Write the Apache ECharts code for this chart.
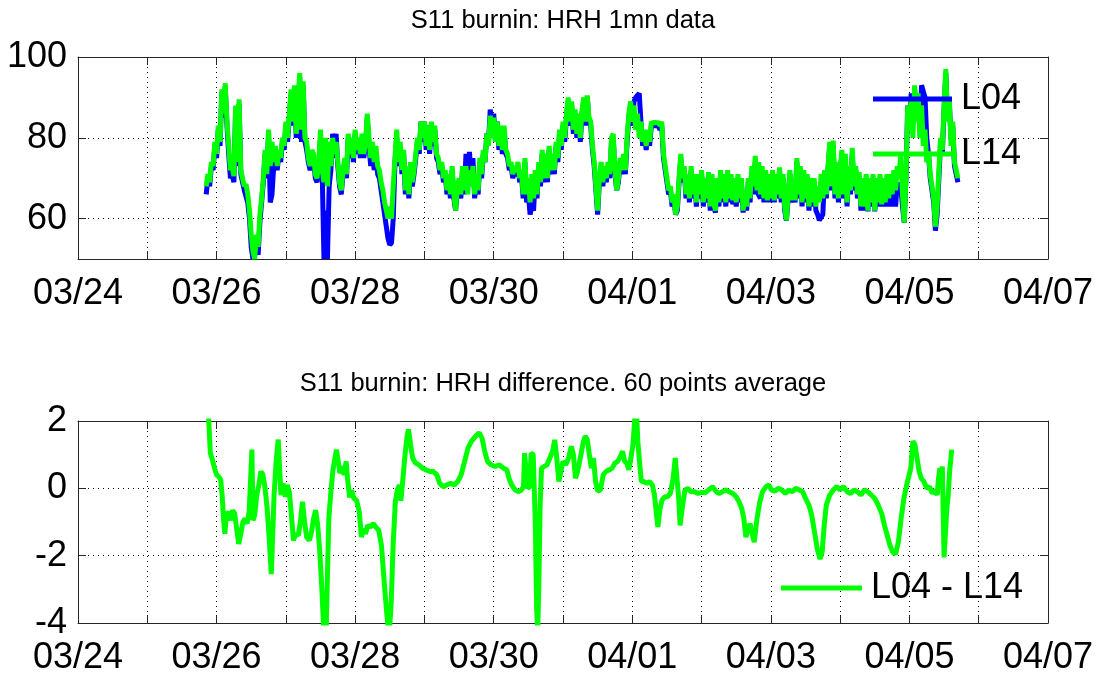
<!DOCTYPE html>
<html><head><meta charset="utf-8">
<script src="https://cdn.jsdelivr.net/npm/echarts@6/dist/echarts.min.js"></script>
<style>html,body{margin:0;padding:0;background:#fff;}#chart{width:1104px;height:676px;}</style>
</head><body><div id="chart"></div>
<script>
const titles = ['S11 burnin: HRH 1mn data', 'S11 burnin: HRH difference. 60 points average'];
const xTickLabels = ['03/24','03/26','03/28','03/30','04/01','04/03','04/05','04/07'];
const yTicksHRH = [60, 80, 100];
const yTicksDiff = [-4, -2, 0, 2];
const seriesNames = ['L04', 'L14', 'L04 - L14'];

// time in days since 03/24 00:00
const hrhTime = [
1.850,1.875,1.900,1.925,1.950,1.975,2.000,2.025,2.050,2.075,2.100,2.125,2.150,2.175,2.200,2.225,2.250,2.275,2.300,2.325,
2.350,2.375,2.400,2.425,2.450,2.475,2.500,2.525,2.550,2.575,2.600,2.625,2.650,2.675,2.700,2.725,2.750,2.775,2.800,2.825,
2.850,2.875,2.900,2.925,2.950,2.975,3.000,3.025,3.050,3.075,3.100,3.125,3.150,3.175,3.200,3.225,3.250,3.275,3.300,3.325,
3.350,3.375,3.400,3.425,3.450,3.475,3.500,3.525,3.550,3.575,3.600,3.625,3.650,3.675,3.700,3.725,3.750,3.775,3.800,3.825,
3.850,3.875,3.900,3.925,3.950,3.975,4.000,4.025,4.050,4.075,4.100,4.125,4.150,4.175,4.200,4.225,4.250,4.275,4.300,4.325,
4.350,4.375,4.400,4.425,4.450,4.475,4.500,4.525,4.550,4.575,4.600,4.625,4.650,4.675,4.700,4.725,4.750,4.775,4.800,4.825,
4.850,4.875,4.900,4.925,4.950,4.975,5.000,5.025,5.050,5.075,5.100,5.125,5.150,5.175,5.200,5.225,5.250,5.275,5.300,5.325,
5.350,5.375,5.400,5.425,5.450,5.475,5.500,5.525,5.550,5.575,5.600,5.625,5.650,5.675,5.700,5.725,5.750,5.775,5.800,5.825,
5.850,5.875,5.900,5.925,5.950,5.975,6.000,6.025,6.050,6.075,6.100,6.125,6.150,6.175,6.200,6.225,6.250,6.275,6.300,6.325,
6.350,6.375,6.400,6.425,6.450,6.475,6.500,6.525,6.550,6.575,6.600,6.625,6.650,6.675,6.700,6.725,6.750,6.775,6.800,6.825,
6.850,6.875,6.900,6.925,6.950,6.975,7.000,7.025,7.050,7.075,7.100,7.125,7.150,7.175,7.200,7.225,7.250,7.275,7.300,7.325,
7.350,7.375,7.400,7.425,7.450,7.475,7.500,7.525,7.550,7.575,7.600,7.625,7.650,7.675,7.700,7.725,7.750,7.775,7.800,7.825,
7.850,7.875,7.900,7.925,7.950,7.975,8.000,8.025,8.050,8.075,8.100,8.125,8.150,8.175,8.200,8.225,8.250,8.275,8.300,8.325,
8.350,8.375,8.400,8.425,8.450,8.475,8.500,8.525,8.550,8.575,8.600,8.625,8.650,8.675,8.700,8.725,8.750,8.775,8.800,8.825,
8.850,8.875,8.900,8.925,8.950,8.975,9.000,9.025,9.050,9.075,9.100,9.125,9.150,9.175,9.200,9.225,9.250,9.275,9.300,9.325,
9.350,9.375,9.400,9.425,9.450,9.475,9.500,9.525,9.550,9.575,9.600,9.625,9.650,9.675,9.700,9.725,9.750,9.775,9.800,9.825,
9.850,9.875,9.900,9.925,9.950,9.975,10.000,10.025,10.050,10.075,10.100,10.125,10.150,10.175,10.200,10.225,10.250,10.275,10.300,10.325,
10.350,10.375,10.400,10.425,10.450,10.475,10.500,10.525,10.550,10.575,10.600,10.625,10.650,10.675,10.700,10.725,10.750,10.775,10.800,10.825,
10.850,10.875,10.900,10.925,10.950,10.975,11.000,11.025,11.050,11.075,11.100,11.125,11.150,11.175,11.200,11.225,11.250,11.275,11.300,11.325,
11.350,11.375,11.400,11.425,11.450,11.475,11.500,11.525,11.550,11.575,11.600,11.625,11.650,11.675,11.700,11.725,11.750,11.775,11.800,11.825,
11.850,11.875,11.900,11.925,11.950,11.975,12.000,12.025,12.050,12.075,12.100,12.125,12.150,12.175,12.200,12.225,12.250,12.275,12.300,12.325,
12.350,12.375,12.400,12.425,12.450,12.475,12.500,12.525,12.550,12.575,12.600,12.625,12.650,12.675,12.700
];
const hrhL04 = [
66,70,68,73,72,78,75,82,78,91,85,92.5,83,76,70,71,69,87,73,88.5,
71,69,67,67,64,60,53,50,50,54,51,59,64,69,76,70,81,64,66,73,
77,72,76,74,79,77,83,79,85,91,83,92,80,87,95,79,93,79,77,74,
72,76,75,70,69,73,80,71,50,62,50,68,72,81,75,81,73,68,66,71,
74,70,80,75,79,74,81,76,79,75,80,75,78,85,78,73,77,72,76,71,
70,67,64,61,58,55,53.5,54,60,74,80,73,78,71,76,66,72,65,72,68,
71,75,79,76,84,79,84,77,83,76,83,78,82,75,74,71,73,69,71,66,
70,65,72,65,62,67,69,65,72,66,76,69,76.5,70,75,65,70,66,74,70,
76,74,81,79,87,82,86,79,84,77,82,76,82,76,75,72,73,70,72,70.5,
73,69,71,65,74,64,66,61,63,62,70,65,73,68,76,69,75,69,77,71,
75,71,78,74,81,77,83,79,85,89,83,88,81,86,80,85,79,86,89,83,
90,84,83,77,73,67,61,69,73,68,72,69,73,70,79,80,71,67,69,74,
71,75,71,79,85,88,83,89,90,90,91,84,78,81,77,81,78,83,83,83,
83,83,82,83,75,72,69,66,67,63,65,61,62,69,75,69,72,65,70,64,
72,65,70,63,70,65,71,63,69,64,70.5,62,70,63,61.5,69,63,71,64,70,
63,71,64,70,63.5,69,63,70,64,69,61.5,66,62,69,64,72,66,74,66.6,66.6,
65,72,64,71,64,70,64,71,64,70,65,72,64,70,62,59.5,65,71,64,69,
64,74,65,72,63,71,64,70,62,69,63,69,62,61,59.6,60,61,71,65,72,
78,67,78,65,73,64,71,76,65,75,63,72,66,76,67,72,65,70.5,62,69,
62,70,61.8,69,63,70,61.8,69,63,70,63,69,63,70,63,66,63,68,63,69,
66,68,63,59,70,88,82,91,84,92,86,90,82,93,93.3,90,80,76,70,67,
64,57,61,70,79,76,87,96,85,89,80,83,73,71,69
];
const hrhL14 = [
68,71,69,74,73,79,76,83,79,92,86,93.5,84,78,72,73,70.5,88,74,89.5,
72,70,68,68.5,66,62,56,52,50,56,53,61,65,70,77,71,82,73,79,74,
78,73,77,75,80,78,84,80,86,92,84,93,81,88,96,82,94,80,79,75,
73,77,76,71,70,74,82,72,69,80,68,79,73,80,76,79,74,69,67,72,
75,71,81,76,80,75,82,77,80,76,81,76,79,86,80,75,79,74,78,73,
72,69,67,64,62,60,63,60,68,75,82,74,79,72,77,67,73,66,74,69,
72,76,80,77,84,80,84,78,83,77,84,79,83,76,75,72,74,70,72,67,
71,66,73,66,62,68,70,66,73,67,73,66,72,68,73,66,71,67,75,71,
77,74,81,78,85.5,80,85,79,84,78,83,77,83,77,76,73,74,71,73,71.5,
74,70,72,66,75,66,70,64,71,65,72,66,74,69,77,70,76,70,78,72,
76,72,79,75,82,78,84,80,86,90,84,89,82,87,81,86,80,87,90,84,
90.5,85,84,78,74,68,62,70,74,69,73,70,74,71,80,81,72,67,70,75,
72,76,72,80,86,89,84,88,82,86,80,84,79,82,78,82,79,84,83.5,84,
83.5,84,83,84,76,73,70,67,68,64,66,61,63,70,76,70,73,66,71,65,
73,66,71,64,71,66,72,64,70,65,71.5,63,71,64,62,70,64,72,65,71,
64,72,65,71,64.5,70,64,71,65,70,62,67,63,70,65,73,68,75.5,67,74,
66,73,65,72,64.5,71,65,72,64.5,71,66,72.7,65,71,63,59.6,66,72,64.5,70,
64.5,75,66,73,64,72,65,71,63,70,64,70,63,68,64,71,65,72,66,73,
79,68,79.3,66,74,65,72,77,66,76,64,73,67,77.5,68,73,66,71.5,63,70,
63,71,62,70,64,71,62,70,64,71,63.5,70,64,71,65,71,66,72,67,73,
70,76,66,59,70,88,82,90,80,93,84,91,80,88,78,82,74,76.6,71,68,
65,58,63,72,80,77,88,97,84,90,78,84,74,72,70
];

const diffTime = [
1.87,1.89,1.91,1.94,1.97,2.00,2.03,2.06,2.08,2.10,
2.12,2.14,2.17,2.20,2.23,2.26,2.29,2.32,2.35,2.38,
2.41,2.44,2.47,2.49,2.51,2.525,2.55,2.58,2.61,2.64,
2.67,2.70,2.73,2.76,2.79,2.81,2.83,2.86,2.89,2.91,
2.93,2.96,2.99,3.02,3.05,3.08,3.11,3.14,3.18,3.21,
3.24,3.27,3.30,3.34,3.37,3.40,3.43,3.46,3.49,3.52,
3.55,3.58,3.60,3.62,3.65,3.68,3.71,3.73,3.76,3.78,
3.81,3.84,3.87,3.89,3.92,3.95,3.98,4.02,4.06,4.09,
4.12,4.15,4.18,4.22,4.26,4.30,4.34,4.38,4.42,4.46,
4.49,4.52,4.55,4.58,4.61,4.64,4.66,4.69,4.72,4.75,
4.77,4.80,4.83,4.87,4.92,4.97,5.02,5.08,5.13,5.18,
5.22,5.27,5.32,5.38,5.43,5.48,5.53,5.58,5.63,5.68,
5.74,5.79,5.83,5.87,5.91,5.96,6.02,6.08,6.14,6.19,
6.22,6.26,6.31,6.36,6.40,6.43,6.445,6.47,6.49,6.52,
6.54,6.57,6.60,6.62,6.635,6.65,6.67,6.69,6.73,6.77,
6.81,6.85,6.88,6.91,6.94,6.97,7.00,7.04,7.08,7.12,
7.15,7.18,7.21,7.25,7.29,7.32,7.35,7.38,7.41,7.44,
7.47,7.50,7.54,7.58,7.62,7.67,7.71,7.75,7.79,7.83,
7.86,7.89,7.92,7.95,7.98,8.01,8.04,8.06,8.08,8.10,
8.13,8.17,8.21,8.25,8.29,8.32,8.35,8.37,8.40,8.43,
8.47,8.51,8.55,8.59,8.62,8.645,8.67,8.69,8.72,8.76,
8.80,8.85,8.90,8.95,9.00,9.05,9.10,9.16,9.21,9.25,
9.30,9.35,9.40,9.45,9.50,9.54,9.58,9.61,9.64,9.67,
9.70,9.73,9.76,9.80,9.84,9.88,9.93,9.97,10.01,10.06,
10.11,10.16,10.21,10.26,10.31,10.36,10.41,10.46,10.50,10.55,
10.59,10.63,10.67,10.71,10.74,10.77,10.80,10.85,10.90,10.95,
11.00,11.05,11.10,11.15,11.20,11.25,11.30,11.35,11.40,11.45,
11.50,11.55,11.60,11.64,11.68,11.72,11.76,11.80,11.84,11.88,
11.92,11.96,11.99,12.02,12.05,12.08,12.11,12.14,12.17,12.21,
12.25,12.29,12.33,12.37,12.40,12.42,12.44,12.46,12.475,12.49,
12.50,12.52,12.54,12.56,12.58,12.61
];
const diffValue = [
2.6,1.9,1.05,0.85,0.6,0.4,0.35,0.25,-0.2,-0.9,
-1.35,-0.8,-0.7,-0.95,-0.65,-0.75,-1.2,-1.65,-1.35,-1.0,
-0.9,-1.05,-0.7,0.2,1.15,-0.95,-0.8,-0.2,0.1,0.5,
0.4,0.0,-0.6,-1.5,-2.55,-1.4,-0.2,0.8,1.45,0.6,
-0.2,0.15,-0.25,0.1,-0.1,-0.8,-1.55,-1.35,-1.4,-1.0,
-0.4,-1.0,-1.45,-1.55,-1.3,-0.9,-0.65,-1.1,-1.9,-3.0,
-4.4,-4.4,-2.6,-0.9,-0.1,0.55,0.9,1.15,0.75,0.45,
0.65,0.4,0.8,0.3,-0.27,-0.05,-0.3,-0.35,-0.7,-1.45,
-1.2,-1.35,-1.1,-1.15,-1.05,-1.15,-1.25,-1.7,-2.8,-3.8,
-4.4,-3.4,-1.6,-0.4,-0.05,0.1,-0.37,0.3,1.0,1.55,
1.75,1.3,0.9,0.75,0.7,0.6,0.55,0.5,0.5,0.4,
0.15,0.05,0.1,0.15,0.1,0.2,0.4,0.8,1.2,1.4,
1.55,1.65,1.5,1.1,0.8,0.7,0.65,0.7,0.6,0.55,
0.3,0.1,-0.05,-0.1,-0.05,0.05,1.05,1.0,0.0,0.05,
1.05,1.0,-1.0,-3.6,-4.2,-3.0,-0.5,0.6,0.65,0.7,
0.9,1.1,1.44,0.9,0.2,0.5,0.8,0.7,0.9,1.25,
1.0,0.3,0.5,0.9,1.35,1.55,1.45,1.0,0.6,0.9,
0.2,-0.08,-0.05,0.4,0.5,0.55,0.6,0.75,0.8,0.95,
1.1,0.8,0.75,0.55,0.9,1.3,2.2,2.3,1.4,0.9,
0.2,0.2,0.15,0.2,0.1,-0.2,-0.8,-1.15,-0.6,-0.35,
-0.25,-0.25,-0.15,0.3,0.9,0.85,-0.3,-1.1,-0.6,-0.05,
0.0,-0.1,-0.1,-0.15,-0.12,-0.13,-0.05,0.05,-0.1,-0.15,
-0.1,-0.05,-0.1,-0.15,-0.25,-0.4,-0.6,-0.9,-1.45,-1.2,
-1.05,-1.35,-1.6,-0.9,-0.4,-0.1,0.05,0.1,-0.05,-0.08,
0.0,-0.05,-0.15,-0.05,-0.1,0.0,-0.05,-0.1,-0.3,-0.5,
-0.8,-1.3,-1.8,-2.1,-1.9,-1.1,-0.5,-0.2,-0.05,0.05,
-0.05,0.05,-0.1,-0.15,-0.05,-0.1,-0.2,-0.05,-0.1,-0.2,
-0.3,-0.5,-0.75,-1.1,-1.4,-1.7,-1.9,-1.95,-1.6,-0.9,
-0.3,0.1,0.35,0.6,1.4,1.3,0.9,0.5,0.3,0.2,
0.0,0.05,-0.15,-0.05,-0.2,0.3,0.6,0.0,0.65,-1.0,
-2.05,-1.3,-0.6,-0.2,0.5,1.15
];

function pairs(xs, ys) {
  const n = Math.min(xs.length, ys.length);
  const out = [];
  for (let i = 0; i < n; i++) out.push([xs[i], ys[i]]);
  return out;
}

const fontFam = "'Liberation Sans', Arial, Helvetica, sans-serif";
const axisColor = '#262626';
const dotted = { show: true, lineStyle: { color: '#000', width: 1, type: [1, 4] } };
const boxLine = { show: true, onZero: false, lineStyle: { color: axisColor, width: 1 } };
const tickIn = { show: true, inside: true, length: 8, lineStyle: { color: axisColor, width: 1 } };

function xPair(gi) {
  return [
    { type: 'value', gridIndex: gi, position: 'bottom', min: 0, max: 14, interval: 1,
      axisLine: boxLine, axisTick: tickIn,
      axisLabel: { show: true, margin: 17, fontSize: 36, color: '#000', fontFamily: fontFam,
        showMinLabel: true, showMaxLabel: true,
        formatter: v => { const k = Math.round(v); return k % 2 === 0 ? xTickLabels[k / 2] : ''; } },
      splitLine: dotted },
    { type: 'value', gridIndex: gi, position: 'top', min: 0, max: 14, interval: 1,
      axisLine: boxLine, axisTick: tickIn, axisLabel: { show: false }, splitLine: { show: false } }
  ];
}

const yAxes = [
  { type: 'value', gridIndex: 0, position: 'left', min: 50, max: 100,
    axisLine: boxLine,
    axisTick: Object.assign({}, tickIn, { customValues: yTicksHRH }),
    axisLabel: { customValues: yTicksHRH, margin: 11, fontSize: 36, color: '#000', fontFamily: fontFam },
    splitLine: Object.assign({}, dotted, { customValues: yTicksHRH }) },
  { type: 'value', gridIndex: 0, position: 'right', min: 50, max: 100,
    axisLine: boxLine,
    axisTick: Object.assign({}, tickIn, { customValues: yTicksHRH }),
    axisLabel: { show: false }, splitLine: { show: false } },
  { type: 'value', gridIndex: 1, position: 'left', min: yTicksDiff[0], max: yTicksDiff[yTicksDiff.length - 1], interval: 2,
    axisLine: boxLine, axisTick: tickIn,
    axisLabel: { margin: 11, fontSize: 36, color: '#000', fontFamily: fontFam },
    splitLine: dotted },
  { type: 'value', gridIndex: 1, position: 'right', min: yTicksDiff[0], max: yTicksDiff[yTicksDiff.length - 1], interval: 2,
    axisLine: boxLine, axisTick: tickIn, axisLabel: { show: false }, splitLine: { show: false } }
];

function lineSeries(name, xi, yi, data, color) {
  return { name: name, type: 'line', xAxisIndex: xi, yAxisIndex: yi, data: data,
    symbol: 'none', showSymbol: false, clip: true, animation: false,
    lineStyle: { color: color, width: 5, join: 'bevel' }, itemStyle: { color: color } };
}

const chart = echarts.init(document.getElementById('chart'), null, { renderer: 'canvas' });
chart.setOption({
  backgroundColor: '#fff',
  animation: false,
  title: [
    { text: titles[0], left: 558, top: 3, textAlign: 'center',
      textStyle: { fontSize: 25.5, fontWeight: 'normal', color: '#000', fontFamily: fontFam } },
    { text: titles[1], left: 558, top: 366, textAlign: 'center',
      textStyle: { fontSize: 25.5, fontWeight: 'normal', color: '#000', fontFamily: fontFam } }
  ],
  legend: [
    { data: [seriesNames[0], seriesNames[1]], orient: 'vertical', left: 873, top: 81, padding: 0,
      itemWidth: 79, itemHeight: 5, itemGap: 19, icon: 'rect', selectedMode: false,
      textStyle: { fontSize: 36, color: '#000', fontFamily: fontFam, padding: [0, 0, 0, 4] } },
    { data: [seriesNames[2]], orient: 'vertical', left: 781, top: 570, padding: 0,
      itemWidth: 81, itemHeight: 5, icon: 'rect', selectedMode: false,
      textStyle: { fontSize: 36, color: '#000', fontFamily: fontFam, padding: [0, 0, 0, 4] } }
  ],
  grid: [
    { left: 78, right: 56, top: 57, height: 202, containLabel: false, outerBoundsMode: 'none' },
    { left: 78, right: 56, top: 421, height: 202, containLabel: false, outerBoundsMode: 'none' }
  ],
  xAxis: xPair(0).concat(xPair(1)),
  yAxis: yAxes,
  series: [
    lineSeries(seriesNames[0], 0, 0, pairs(hrhTime, hrhL04), '#0000ff'),
    lineSeries(seriesNames[1], 0, 0, pairs(hrhTime, hrhL14), '#00ff00'),
    lineSeries(seriesNames[2], 2, 2, pairs(diffTime, diffValue), '#00ff00')
  ]
});
</script>
</body></html>
